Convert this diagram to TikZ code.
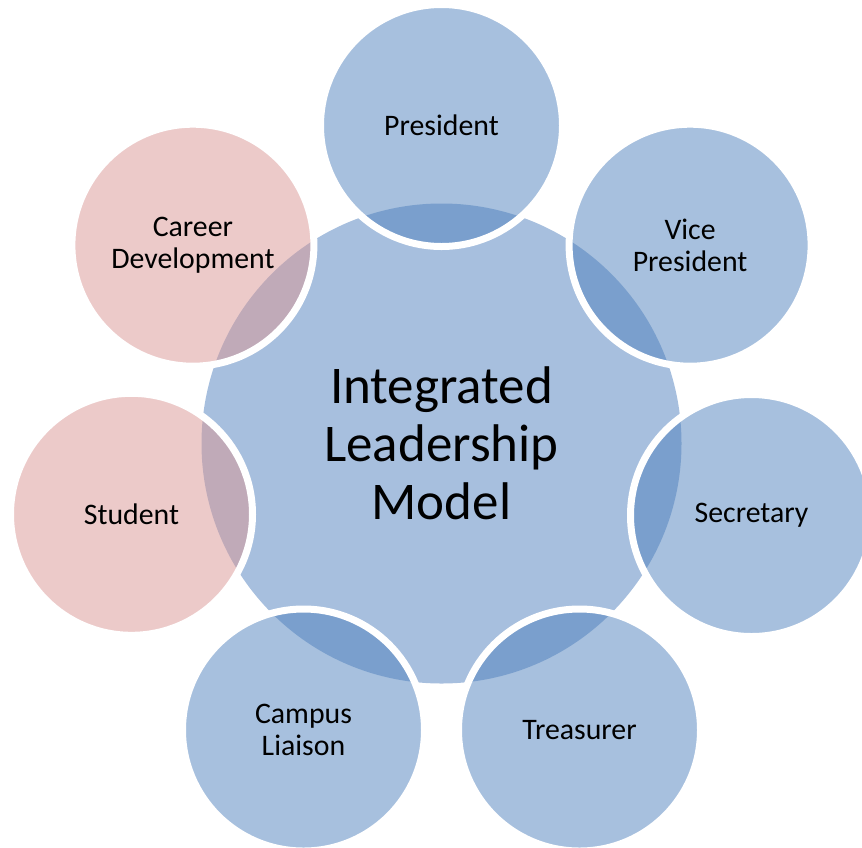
\documentclass[tikz,border=0pt]{standalone}
\usepackage{fontspec}
\setmainfont{Carlito}
\definecolor{centerblue}{HTML}{A7BFDE}
\definecolor{accentblue}{HTML}{4F81BD}
\definecolor{accentpink}{HTML}{D99694}
\tikzset{
  hub/.style={circle, fill=centerblue, minimum size=480pt, inner sep=0pt, align=center,
    font=\fontsize{53}{58}\selectfont},
  spoke/.style={circle, fill=accentblue, fill opacity=0.5, text opacity=1, draw=white,
    draw opacity=1, line width=7pt, minimum size=242pt, inner sep=0pt, align=center,
    font=\fontsize{29.8}{32}\selectfont},
  pinkspoke/.style={spoke, fill=accentpink},
}
\begin{document}
\begin{tikzpicture}[x=1pt,y=-1pt]
\useasboundingbox (0,0) rectangle (862,847);
\clip (0,0) rectangle (862,847);
\node[hub] (hub) at (441.5,443.5) {Integrated\\Leadership\\Model};
\node[spoke] (pres) at (441.5,125.5) {President};
\node[spoke] (vp) at (690.1,245.2) {Vice\\President};
\node[spoke] (sec) at (751.5,515.5) {Secretary};
\node[spoke] (tre) at (579.5,730) {Treasurer};
\node[spoke] (cam) at (303.5,730) {Campus\\Liaison};
\node[pinkspoke] (stu) at (131.5,514.3) {Student};
\node[pinkspoke] (car) at (192.9,245.2) {Career\\Development};
\end{tikzpicture}
\end{document}
